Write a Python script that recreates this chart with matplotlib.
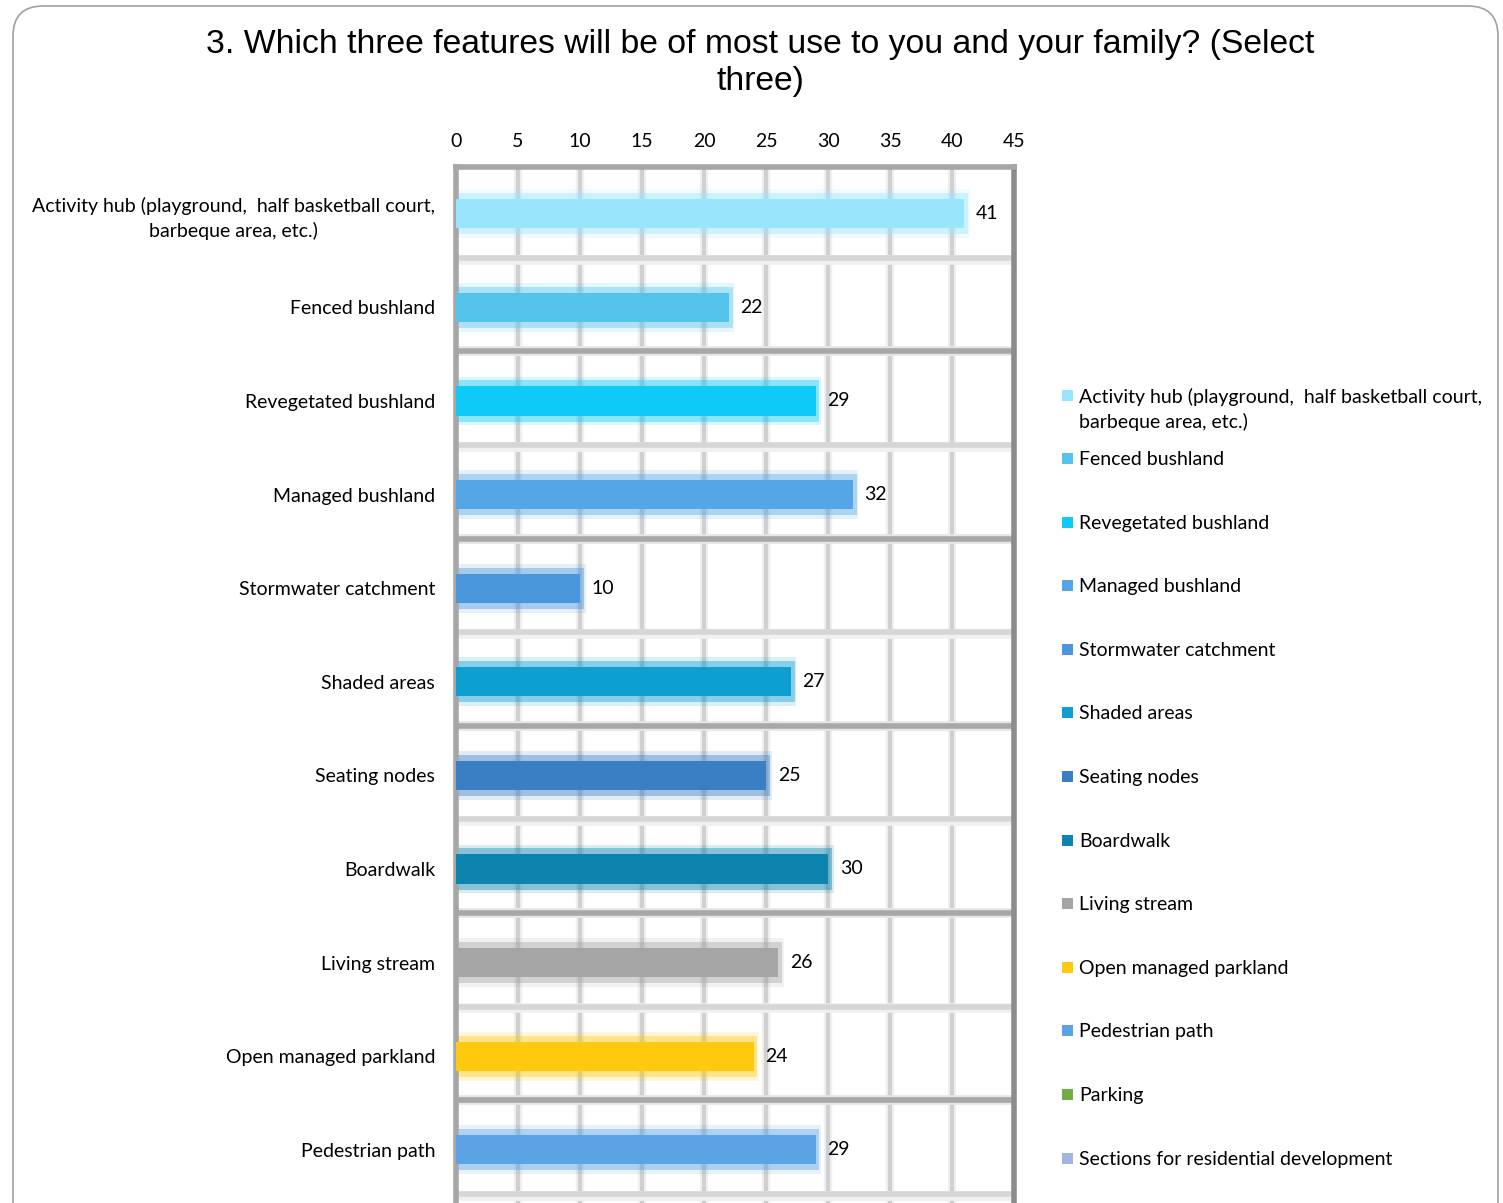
import matplotlib
matplotlib.use("Agg")
import matplotlib.pyplot as plt
from matplotlib.patches import FancyBboxPatch, Rectangle
import numpy as np

title = "3. Which three features will be of most use to you and your family? (Select\nthree)"
categories = [
    "Activity hub (playground,  half basketball court,\nbarbeque area, etc.)",
    "Fenced bushland",
    "Revegetated bushland",
    "Managed bushland",
    "Stormwater catchment",
    "Shaded areas",
    "Seating nodes",
    "Boardwalk",
    "Living stream",
    "Open managed parkland",
    "Pedestrian path",
    "Parking",
    "Sections for residential development",
]
values = [41, 22, 29, 32, 10, 27, 25, 30, 26, 24, 29, 8, 3]
colors = ["#99E5FC", "#55C4EC", "#0DCAF8", "#55A6E6", "#4A97DE", "#0C9FD0",
          "#3A7EC4", "#0C84AD", "#A5A5A5", "#FFC90E", "#5BA3E4", "#70AD47", "#A5B4DE"]
xticks = [0, 5, 10, 15, 20, 25, 30, 35, 40, 45]

W, H = 1503, 1203
fig = plt.figure(figsize=(W / 100, H / 100), dpi=100)
fig.patch.set_facecolor("white")

# rounded outer frame
frame = FancyBboxPatch((13 / W, -0.2), (1498 - 13) / W, (1197 / H) + 0.2,
                       boxstyle="round,pad=0,rounding_size=0.02",
                       transform=fig.transFigure, facecolor="white",
                       edgecolor="#a0a0a0", linewidth=1.2, zorder=-10,
                       mutation_aspect=W / H)
fig.patches.append(frame)

font = "Lato"
fs = 14
n = len(categories)
step = 93.6
ax_top = 167
ax_h = n * step
ax = fig.add_axes([456 / W, 1 - (ax_top + ax_h) / H, (1014 - 456) / W, ax_h / H])
ax.set_zorder(5)
ax.set_xlim(0, 45)
ax.set_ylim(n - 0.5, -0.5)
ax.set_facecolor("white")

# vertical gridlines
for t in xticks[1:-1]:
    ax.axvline(t, color="#f0f0f0", lw=6, zorder=1)
    ax.axvline(t, color="#d0d0d0", lw=3, zorder=1)
# horizontal gridlines at category boundaries
for i in range(n - 1):
    y = i + 0.47
    if i % 2 == 1:
        ax.axhline(y, color="#e6e6e6", lw=7, zorder=1)
        ax.axhline(y, color="#a8a8a8", lw=4, zorder=1)
    else:
        ax.axhline(y + 0.02, color="#f0f0f0", lw=7, zorder=1)
        ax.axhline(y, color="#d6d6d6", lw=4, zorder=1)

ypos = np.arange(n)
# glow
ax.barh(ypos, np.array(values) + 0.45, height=0.52, color=colors, alpha=0.15, zorder=2, linewidth=0)
ax.barh(ypos, np.array(values) + 0.3, height=0.44, color=colors, alpha=0.4, zorder=2, linewidth=0)
ax.barh(ypos, values, height=0.31, color=colors, zorder=3, linewidth=0)

for y, v in zip(ypos, values):
    ax.text(v + 0.95, y, str(v), va="center", ha="left", fontsize=fs,
            family=font, color="#000000", zorder=4)

ax.set_yticks(ypos)
ax.set_yticklabels(categories, fontsize=fs, family=font, multialignment="center",
                   linespacing=1.45)
ax.set_xticks(xticks)
ax.set_xticklabels([str(t) for t in xticks], fontsize=fs, family=font)
ax.xaxis.tick_top()
ax.tick_params(axis="both", length=0)
ax.tick_params(axis="x", pad=12)
ax.tick_params(axis="y", pad=15)

for s in ["top", "left"]:
    ax.spines[s].set_color("#a6a6a6")
    ax.spines[s].set_linewidth(4)
ax.spines["right"].set_color("#8c8c8c")
ax.spines["right"].set_linewidth(4)
ax.spines["bottom"].set_visible(False)

fig.text(760 / W, 1 - 63 / H, title, ha="center", va="center", fontsize=24.3,
         family="Liberation Sans", color="#000000", linespacing=1.25)

# legend (manual, Excel-like slots)
leg_x_sq = 1062
leg_x_tx = 1079
leg_y0 = 458
leg_step = 63.6
for i, (lab, c) in enumerate(zip(categories, colors)):
    if i == 0:
        yc = 395
    else:
        yc = leg_y0 + (i - 1) * leg_step
    fig.patches.append(Rectangle((leg_x_sq / W, 1 - (yc + 6) / H), 11 / W, 11 / H,
                                 transform=fig.transFigure, facecolor=c, edgecolor="none"))
    fig.text(leg_x_tx / W, 1 - (yc - 7) / H, lab, ha="left", va="top", fontsize=fs,
             family=font, color="#000000", linespacing=1.45)

fig.savefig("out.png", dpi=100)
